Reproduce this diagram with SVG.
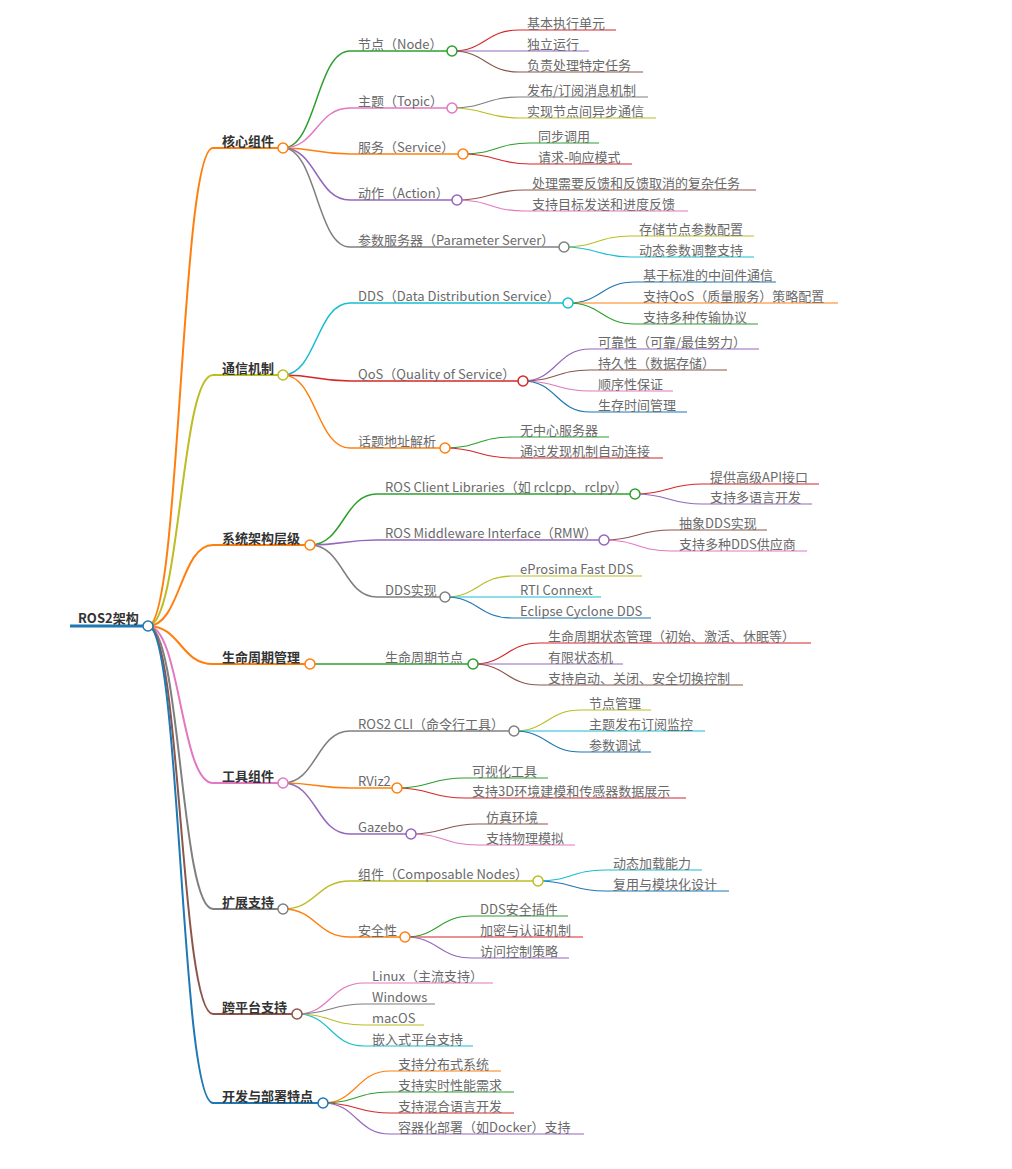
<svg xmlns="http://www.w3.org/2000/svg" width="1012" height="1169" viewBox="0 0 1012 1169">
<style>
.bg{fill:#fff}
#connectors path{fill:none}
.node line{fill:none}
.node circle{fill:#fff;stroke-width:1.5}
.t{font-family:"Noto Sans CJK SC","Noto Sans",sans-serif;font-size:13px;fill:#6a6a6a;stroke:none}
.b{font-weight:bold;fill:#333}
.w3{stroke-width:3}.w2{stroke-width:2}.w15{stroke-width:1.5}.w12{stroke-width:1.2}
.blue{stroke:#1f77b4}.orange{stroke:#ff7f0e}.green{stroke:#2ca02c}.red{stroke:#d62728}.purple{stroke:#9467bd}
.brown{stroke:#8c564b}.pink{stroke:#e377c2}.gray{stroke:#7f7f7f}.olive{stroke:#bcbd22}.cyan{stroke:#17becf}
</style>
<rect class="bg" x="0" y="0" width="1012" height="1169"/>
<g id="connectors">
<g class="w2">
<path class="orange" d="M148,626 C180.5,626 180.5,148 213,148"/>
<path class="olive" d="M148,626 C180.5,626 180.5,375 213,375"/>
<path class="orange" d="M148,626 C180.5,626 180.5,545 213,545"/>
<path class="orange" d="M148,626 C180.5,626 180.5,664 213,664"/>
<path class="pink" d="M148,626 C180.5,626 180.5,783 213,783"/>
<path class="gray" d="M148,626 C180.5,626 180.5,909 213,909"/>
<path class="brown" d="M148,626 C180.5,626 180.5,1014 213,1014"/>
<path class="blue" d="M148,626 C180.5,626 180.5,1103 213,1103"/>
</g>
<g class="w15">
<path class="green" d="M283,148 C316.5,148 316.5,51 350,51"/>
<path class="pink" d="M283,148 C316.5,148 316.5,108 350,108"/>
<path class="orange" d="M283,148 C316.5,148 316.5,154 350,154"/>
<path class="purple" d="M283,148 C316.5,148 316.5,200 350,200"/>
<path class="gray" d="M283,148 C316.5,148 316.5,247 350,247"/>
<path class="cyan" d="M283,375 C316.5,375 316.5,303 350,303"/>
<path class="red" d="M283,375 C316.5,375 316.5,381 350,381"/>
<path class="orange" d="M283,375 C316.5,375 316.5,448 350,448"/>
<path class="green" d="M310,545 C343.5,545 343.5,494 377,494"/>
<path class="purple" d="M310,545 C343.5,545 343.5,540 377,540"/>
<path class="gray" d="M310,545 C343.5,545 343.5,597 377,597"/>
<path class="green" d="M310,664 C343.5,664 343.5,664 377,664"/>
<path class="gray" d="M283,783 C316.5,783 316.5,731 350,731"/>
<path class="orange" d="M283,783 C316.5,783 316.5,788 350,788"/>
<path class="purple" d="M283,783 C316.5,783 316.5,834 350,834"/>
<path class="olive" d="M283,909 C316.5,909 316.5,881 350,881"/>
<path class="orange" d="M283,909 C316.5,909 316.5,937 350,937"/>
</g>
<g class="w12">
<path class="red" d="M452,51 C485.5,51 485.5,30 519,30"/>
<path class="purple" d="M452,51 C485.5,51 485.5,51 519,51"/>
<path class="brown" d="M452,51 C485.5,51 485.5,72 519,72"/>
<path class="gray" d="M452,108 C485.5,108 485.5,97 519,97"/>
<path class="olive" d="M452,108 C485.5,108 485.5,118 519,118"/>
<path class="green" d="M463,154 C496.5,154 496.5,143 530,143"/>
<path class="red" d="M463,154 C496.5,154 496.5,164 530,164"/>
<path class="brown" d="M457,200 C490.5,200 490.5,190 524,190"/>
<path class="pink" d="M457,200 C490.5,200 490.5,211 524,211"/>
<path class="olive" d="M564,247 C597.5,247 597.5,236 631,236"/>
<path class="cyan" d="M564,247 C597.5,247 597.5,257 631,257"/>
<path class="blue" d="M568,303 C601.5,303 601.5,282 635,282"/>
<path class="orange" d="M568,303 C601.5,303 601.5,303 635,303"/>
<path class="green" d="M568,303 C601.5,303 601.5,324 635,324"/>
<path class="purple" d="M523,381 C556.5,381 556.5,349 590,349"/>
<path class="brown" d="M523,381 C556.5,381 556.5,370 590,370"/>
<path class="pink" d="M523,381 C556.5,381 556.5,391 590,391"/>
<path class="blue" d="M523,381 C556.5,381 556.5,412 590,412"/>
<path class="green" d="M445,448 C478.5,448 478.5,437 512,437"/>
<path class="red" d="M445,448 C478.5,448 478.5,458 512,458"/>
<path class="red" d="M635,494 C668.5,494 668.5,484 702,484"/>
<path class="purple" d="M635,494 C668.5,494 668.5,504 702,504"/>
<path class="brown" d="M604,540 C637.5,540 637.5,530 671,530"/>
<path class="pink" d="M604,540 C637.5,540 637.5,551 671,551"/>
<path class="olive" d="M445,597 C478.5,597 478.5,576 512,576"/>
<path class="cyan" d="M445,597 C478.5,597 478.5,597 512,597"/>
<path class="blue" d="M445,597 C478.5,597 478.5,618 512,618"/>
<path class="red" d="M473,664 C506.5,664 506.5,643 540,643"/>
<path class="purple" d="M473,664 C506.5,664 506.5,664 540,664"/>
<path class="brown" d="M473,664 C506.5,664 506.5,685 540,685"/>
<path class="olive" d="M514,731 C547.5,731 547.5,710 581,710"/>
<path class="cyan" d="M514,731 C547.5,731 547.5,731 581,731"/>
<path class="blue" d="M514,731 C547.5,731 547.5,752 581,752"/>
<path class="green" d="M397,788 C430.5,788 430.5,778 464,778"/>
<path class="red" d="M397,788 C430.5,788 430.5,798 464,798"/>
<path class="brown" d="M411,834 C444.5,834 444.5,824 478,824"/>
<path class="pink" d="M411,834 C444.5,834 444.5,845 478,845"/>
<path class="cyan" d="M538,881 C571.5,881 571.5,870 605,870"/>
<path class="blue" d="M538,881 C571.5,881 571.5,891 605,891"/>
<path class="green" d="M405,937 C438.5,937 438.5,916 472,916"/>
<path class="red" d="M405,937 C438.5,937 438.5,937 472,937"/>
<path class="purple" d="M405,937 C438.5,937 438.5,958 472,958"/>
<path class="pink" d="M297,1014 C330.5,1014 330.5,983 364,983"/>
<path class="gray" d="M297,1014 C330.5,1014 330.5,1004 364,1004"/>
<path class="olive" d="M297,1014 C330.5,1014 330.5,1025 364,1025"/>
<path class="cyan" d="M297,1014 C330.5,1014 330.5,1046 364,1046"/>
<path class="orange" d="M323,1103 C356.5,1103 356.5,1071 390,1071"/>
<path class="green" d="M323,1103 C356.5,1103 356.5,1092 390,1092"/>
<path class="red" d="M323,1103 C356.5,1103 356.5,1113 390,1113"/>
<path class="purple" d="M323,1103 C356.5,1103 356.5,1134 390,1134"/>
</g>
</g>

<!-- root -->
<g id="n-root" class="node blue"><line class="w3" x1="70" y1="626" x2="148" y2="626"/><text class="t b" x="78" y="623">ROS2架构</text><circle cx="148" cy="626" r="5"/></g>

<!-- level 1 -->
<g id="n-core" class="node orange"><line class="w2" x1="213" y1="148" x2="283" y2="148"/><text class="t b" x="222" y="145.5">核心组件</text><circle cx="283" cy="148" r="5"/></g>
<g id="n-comm" class="node olive"><line class="w2" x1="213" y1="375" x2="283" y2="375"/><text class="t b" x="222" y="372.5">通信机制</text><circle cx="283" cy="375" r="5"/></g>
<g id="n-arch" class="node orange"><line class="w2" x1="213" y1="545" x2="310" y2="545"/><text class="t b" x="222" y="542.5">系统架构层级</text><circle cx="310" cy="545" r="5"/></g>
<g id="n-life" class="node orange"><line class="w2" x1="213" y1="664" x2="310" y2="664"/><text class="t b" x="222" y="661.5">生命周期管理</text><circle cx="310" cy="664" r="5"/></g>
<g id="n-tools" class="node pink"><line class="w2" x1="213" y1="783" x2="283" y2="783"/><text class="t b" x="222" y="780.5">工具组件</text><circle cx="283" cy="783" r="5"/></g>
<g id="n-ext" class="node gray"><line class="w2" x1="213" y1="909" x2="283" y2="909"/><text class="t b" x="222" y="906.5">扩展支持</text><circle cx="283" cy="909" r="5"/></g>
<g id="n-plat" class="node brown"><line class="w2" x1="213" y1="1014" x2="297" y2="1014"/><text class="t b" x="222" y="1011.5">跨平台支持</text><circle cx="297" cy="1014" r="5"/></g>
<g id="n-dev" class="node blue"><line class="w2" x1="213" y1="1103" x2="323" y2="1103"/><text class="t b" x="222" y="1100.5">开发与部署特点</text><circle cx="323" cy="1103" r="5"/></g>

<!-- level 2 -->
<g id="n-node" class="node green"><line class="w15" x1="350" y1="51" x2="452" y2="51"/><text class="t" x="358" y="48.5">节点（Node）</text><circle cx="452" cy="51" r="5"/></g>
<g id="n-topic" class="node pink"><line class="w15" x1="350" y1="108" x2="452" y2="108"/><text class="t" x="358" y="105.5">主题（Topic）</text><circle cx="452" cy="108" r="5"/></g>
<g id="n-service" class="node orange"><line class="w15" x1="350" y1="154" x2="463" y2="154"/><text class="t" x="358" y="151.5">服务（Service）</text><circle cx="463" cy="154" r="5"/></g>
<g id="n-action" class="node purple"><line class="w15" x1="350" y1="200" x2="457" y2="200"/><text class="t" x="358" y="197.5">动作（Action）</text><circle cx="457" cy="200" r="5"/></g>
<g id="n-param" class="node gray"><line class="w15" x1="350" y1="247" x2="564" y2="247"/><text class="t" x="358" y="244.5">参数服务器（Parameter Server）</text><circle cx="564" cy="247" r="5"/></g>
<g id="n-dds" class="node cyan"><line class="w15" x1="350" y1="303" x2="568" y2="303"/><text class="t" x="358" y="300.5">DDS（Data Distribution Service）</text><circle cx="568" cy="303" r="5"/></g>
<g id="n-qos" class="node red"><line class="w15" x1="350" y1="381" x2="523" y2="381"/><text class="t" x="358" y="378.5">QoS（Quality of Service）</text><circle cx="523" cy="381" r="5"/></g>
<g id="n-addr" class="node orange"><line class="w15" x1="350" y1="448" x2="445" y2="448"/><text class="t" x="358" y="445.5">话题地址解析</text><circle cx="445" cy="448" r="5"/></g>
<g id="n-rcl" class="node green"><line class="w15" x1="377" y1="494" x2="635" y2="494"/><text class="t" x="385" y="491.5">ROS Client Libraries（如 rclcpp、rclpy）</text><circle cx="635" cy="494" r="5"/></g>
<g id="n-rmw" class="node purple"><line class="w15" x1="377" y1="540" x2="604" y2="540"/><text class="t" x="385" y="537.5">ROS Middleware Interface（RMW）</text><circle cx="604" cy="540" r="5"/></g>
<g id="n-ddsimpl" class="node gray"><line class="w15" x1="377" y1="597" x2="445" y2="597"/><text class="t" x="385" y="594.5">DDS实现</text><circle cx="445" cy="597" r="5"/></g>
<g id="n-lifenode" class="node green"><line class="w15" x1="377" y1="664" x2="473" y2="664"/><text class="t" x="385" y="661.5">生命周期节点</text><circle cx="473" cy="664" r="5"/></g>
<g id="n-cli" class="node gray"><line class="w15" x1="350" y1="731" x2="514" y2="731"/><text class="t" x="358" y="728.5">ROS2 CLI（命令行工具）</text><circle cx="514" cy="731" r="5"/></g>
<g id="n-rviz" class="node orange"><line class="w15" x1="350" y1="788" x2="397" y2="788"/><text class="t" x="358" y="785.5">RViz2</text><circle cx="397" cy="788" r="5"/></g>
<g id="n-gazebo" class="node purple"><line class="w15" x1="350" y1="834" x2="411" y2="834"/><text class="t" x="358" y="831.5">Gazebo</text><circle cx="411" cy="834" r="5"/></g>
<g id="n-comp" class="node olive"><line class="w15" x1="350" y1="881" x2="538" y2="881"/><text class="t" x="358" y="878.5">组件（Composable Nodes）</text><circle cx="538" cy="881" r="5"/></g>
<g id="n-sec" class="node orange"><line class="w15" x1="350" y1="937" x2="405" y2="937"/><text class="t" x="358" y="934.5">安全性</text><circle cx="405" cy="937" r="5"/></g>

<!-- leaves -->
<g id="n-l1" class="node red"><line class="w12" x1="519" y1="30" x2="616" y2="30"/><text class="t" x="527" y="27.5">基本执行单元</text></g>
<g id="n-l2" class="node purple"><line class="w12" x1="519" y1="51" x2="589" y2="51"/><text class="t" x="527" y="48.5">独立运行</text></g>
<g id="n-l3" class="node brown"><line class="w12" x1="519" y1="72" x2="643" y2="72"/><text class="t" x="527" y="69.5">负责处理特定任务</text></g>
<g id="n-l4" class="node gray"><line class="w12" x1="519" y1="97" x2="648" y2="97"/><text class="t" x="527" y="94.5">发布/订阅消息机制</text></g>
<g id="n-l5" class="node olive"><line class="w12" x1="519" y1="118" x2="656" y2="118"/><text class="t" x="527" y="115.5">实现节点间异步通信</text></g>
<g id="n-l6" class="node green"><line class="w12" x1="530" y1="143" x2="599" y2="143"/><text class="t" x="538" y="140.5">同步调用</text></g>
<g id="n-l7" class="node red"><line class="w12" x1="530" y1="164" x2="632" y2="164"/><text class="t" x="538" y="161.5">请求-响应模式</text></g>
<g id="n-l8" class="node brown"><line class="w12" x1="524" y1="190" x2="756" y2="190"/><text class="t" x="532" y="187.5">处理需要反馈和反馈取消的复杂任务</text></g>
<g id="n-l9" class="node pink"><line class="w12" x1="524" y1="211" x2="688" y2="211"/><text class="t" x="532" y="208.5">支持目标发送和进度反馈</text></g>
<g id="n-l10" class="node olive"><line class="w12" x1="631" y1="236" x2="754" y2="236"/><text class="t" x="639" y="233.5">存储节点参数配置</text></g>
<g id="n-l11" class="node cyan"><line class="w12" x1="631" y1="257" x2="754" y2="257"/><text class="t" x="639" y="254.5">动态参数调整支持</text></g>
<g id="n-l12" class="node blue"><line class="w12" x1="635" y1="282" x2="776" y2="282"/><text class="t" x="643" y="279.5">基于标准的中间件通信</text></g>
<g id="n-l13" class="node orange"><line class="w12" x1="635" y1="303" x2="838" y2="303"/><text class="t" x="643" y="300.5">支持QoS（质量服务）策略配置</text></g>
<g id="n-l14" class="node green"><line class="w12" x1="635" y1="324" x2="758" y2="324"/><text class="t" x="643" y="321.5">支持多种传输协议</text></g>
<g id="n-l15" class="node purple"><line class="w12" x1="590" y1="349" x2="759" y2="349"/><text class="t" x="598" y="346.5">可靠性（可靠/最佳努力）</text></g>
<g id="n-l16" class="node brown"><line class="w12" x1="590" y1="370" x2="727" y2="370"/><text class="t" x="598" y="367.5">持久性（数据存储）</text></g>
<g id="n-l17" class="node pink"><line class="w12" x1="590" y1="391" x2="673" y2="391"/><text class="t" x="598" y="388.5">顺序性保证</text></g>
<g id="n-l18" class="node blue"><line class="w12" x1="590" y1="412" x2="687" y2="412"/><text class="t" x="598" y="409.5">生存时间管理</text></g>
<g id="n-l19" class="node green"><line class="w12" x1="512" y1="437" x2="609" y2="437"/><text class="t" x="520" y="434.5">无中心服务器</text></g>
<g id="n-l20" class="node red"><line class="w12" x1="512" y1="458" x2="663" y2="458"/><text class="t" x="520" y="455.5">通过发现机制自动连接</text></g>
<g id="n-l21" class="node red"><line class="w12" x1="702" y1="484" x2="819" y2="484"/><text class="t" x="710" y="481.5">提供高级API接口</text></g>
<g id="n-l22" class="node purple"><line class="w12" x1="702" y1="504" x2="812" y2="504"/><text class="t" x="710" y="501.5">支持多语言开发</text></g>
<g id="n-l23" class="node brown"><line class="w12" x1="671" y1="530" x2="767" y2="530"/><text class="t" x="679" y="527.5">抽象DDS实现</text></g>
<g id="n-l24" class="node pink"><line class="w12" x1="671" y1="551" x2="807" y2="551"/><text class="t" x="679" y="548.5">支持多种DDS供应商</text></g>
<g id="n-l25" class="node olive"><line class="w12" x1="512" y1="576" x2="642" y2="576"/><text class="t" x="520" y="573.5">eProsima Fast DDS</text></g>
<g id="n-l26" class="node cyan"><line class="w12" x1="512" y1="597" x2="601" y2="597"/><text class="t" x="520" y="594.5">RTI Connext</text></g>
<g id="n-l27" class="node blue"><line class="w12" x1="512" y1="618" x2="651" y2="618"/><text class="t" x="520" y="615.5">Eclipse Cyclone DDS</text></g>
<g id="n-l28" class="node red"><line class="w12" x1="540" y1="643" x2="811" y2="643"/><text class="t" x="548" y="640.5">生命周期状态管理（初始、激活、休眠等）</text></g>
<g id="n-l29" class="node purple"><line class="w12" x1="540" y1="664" x2="623" y2="664"/><text class="t" x="548" y="661.5">有限状态机</text></g>
<g id="n-l30" class="node brown"><line class="w12" x1="540" y1="685" x2="743" y2="685"/><text class="t" x="548" y="682.5">支持启动、关闭、安全切换控制</text></g>
<g id="n-l31" class="node olive"><line class="w12" x1="581" y1="710" x2="651" y2="710"/><text class="t" x="589" y="707.5">节点管理</text></g>
<g id="n-l32" class="node cyan"><line class="w12" x1="581" y1="731" x2="705" y2="731"/><text class="t" x="589" y="728.5">主题发布订阅监控</text></g>
<g id="n-l33" class="node blue"><line class="w12" x1="581" y1="752" x2="651" y2="752"/><text class="t" x="589" y="749.5">参数调试</text></g>
<g id="n-l34" class="node green"><line class="w12" x1="464" y1="778" x2="548" y2="778"/><text class="t" x="472" y="775.5">可视化工具</text></g>
<g id="n-l35" class="node red"><line class="w12" x1="464" y1="798" x2="686" y2="798"/><text class="t" x="472" y="795.5">支持3D环境建模和传感器数据展示</text></g>
<g id="n-l36" class="node brown"><line class="w12" x1="478" y1="824" x2="548" y2="824"/><text class="t" x="486" y="821.5">仿真环境</text></g>
<g id="n-l37" class="node pink"><line class="w12" x1="478" y1="845" x2="575" y2="845"/><text class="t" x="486" y="842.5">支持物理模拟</text></g>
<g id="n-l38" class="node cyan"><line class="w12" x1="605" y1="870" x2="702" y2="870"/><text class="t" x="613" y="867.5">动态加载能力</text></g>
<g id="n-l39" class="node blue"><line class="w12" x1="605" y1="891" x2="729" y2="891"/><text class="t" x="613" y="888.5">复用与模块化设计</text></g>
<g id="n-l40" class="node green"><line class="w12" x1="472" y1="916" x2="568" y2="916"/><text class="t" x="480" y="913.5">DDS安全插件</text></g>
<g id="n-l41" class="node red"><line class="w12" x1="472" y1="937" x2="583" y2="937"/><text class="t" x="480" y="934.5">加密与认证机制</text></g>
<g id="n-l42" class="node purple"><line class="w12" x1="472" y1="958" x2="569" y2="958"/><text class="t" x="480" y="955.5">访问控制策略</text></g>
<g id="n-l43" class="node pink"><line class="w12" x1="364" y1="983" x2="493" y2="983"/><text class="t" x="372" y="980.5">Linux（主流支持）</text></g>
<g id="n-l44" class="node gray"><line class="w12" x1="364" y1="1004" x2="435" y2="1004"/><text class="t" x="372" y="1001.5">Windows</text></g>
<g id="n-l45" class="node olive"><line class="w12" x1="364" y1="1025" x2="424" y2="1025"/><text class="t" x="372" y="1022.5">macOS</text></g>
<g id="n-l46" class="node cyan"><line class="w12" x1="364" y1="1046" x2="473" y2="1046"/><text class="t" x="372" y="1043.5">嵌入式平台支持</text></g>
<g id="n-l47" class="node orange"><line class="w12" x1="390" y1="1071" x2="501" y2="1071"/><text class="t" x="398" y="1068.5">支持分布式系统</text></g>
<g id="n-l48" class="node green"><line class="w12" x1="390" y1="1092" x2="514" y2="1092"/><text class="t" x="398" y="1089.5">支持实时性能需求</text></g>
<g id="n-l49" class="node red"><line class="w12" x1="390" y1="1113" x2="514" y2="1113"/><text class="t" x="398" y="1110.5">支持混合语言开发</text></g>
<g id="n-l50" class="node purple"><line class="w12" x1="390" y1="1134" x2="584" y2="1134"/><text class="t" x="398" y="1131.5">容器化部署（如Docker）支持</text></g>
</svg>
